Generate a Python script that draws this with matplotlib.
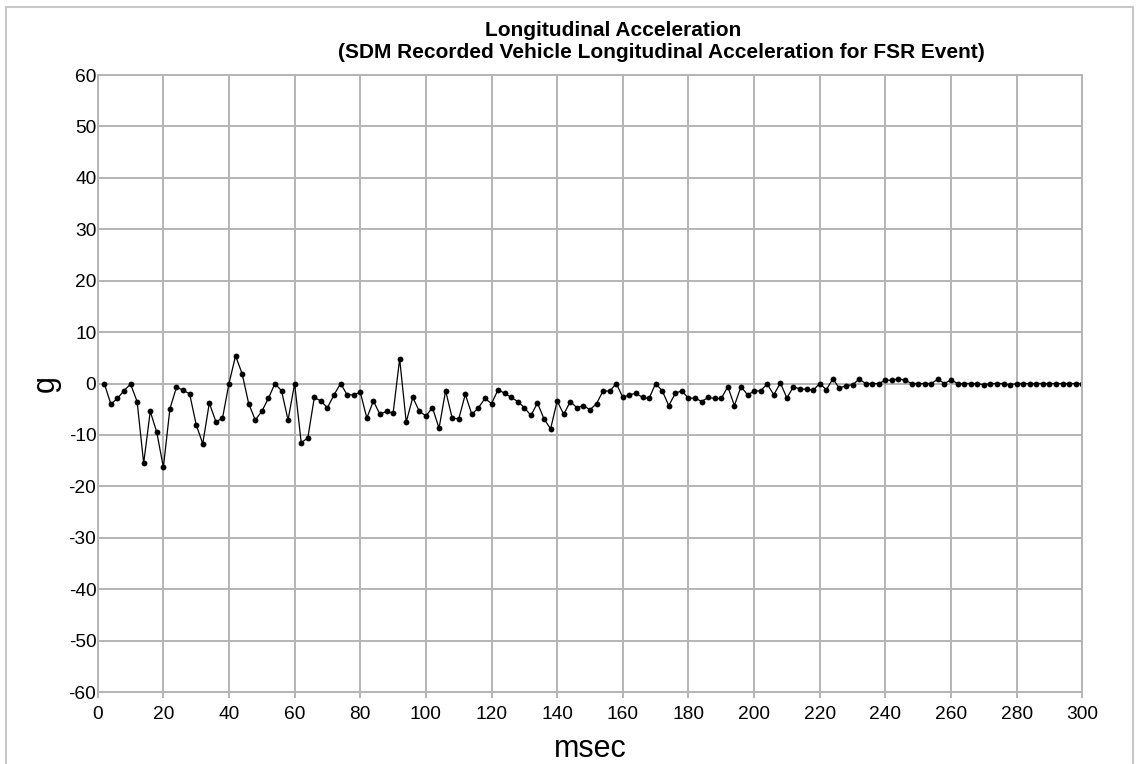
import numpy as np
import matplotlib.pyplot as plt
from matplotlib.patches import Rectangle

plt.rcParams['font.family'] = ['Liberation Sans', 'DejaVu Sans']
plt.rcParams['axes.unicode_minus'] = False

# Time samples (msec), one every 2 ms
msec = np.arange(2, 301, 2)

# Recorded longitudinal acceleration (g)
accel = [
    0.0, -4.0, -2.9, -1.4, -0.1, -3.5, -15.5, -5.4, -9.5, -16.3,      # 2-20
    -4.9, -0.7, -1.3, -2.0, -8.0, -11.7, -3.8, -7.4, -6.8, 0.0,       # 22-40
    5.4, 1.9, -3.9, -7.1, -5.4, -2.9, 0.0, -1.4, -7.1, 0.0,           # 42-60
    -11.5, -10.6, -2.7, -3.4, -4.7, -2.2, 0.0, -2.2, -2.2, -1.7,      # 62-80
    -6.7, -3.4, -6.0, -5.4, -5.8, 4.8, -7.5, -2.7, -5.4, -6.3,        # 82-100
    -4.7, -8.7, -1.4, -6.7, -6.9, -2.1, -6.0, -4.7, -2.9, -3.9,       # 102-120
    -1.2, -1.9, -2.7, -3.5, -4.7, -6.2, -3.8, -6.9, -8.8, -3.4,       # 122-140
    -6.0, -3.5, -4.7, -4.3, -5.1, -3.9, -1.4, -1.5, 0.0, -2.7,        # 142-160
    -2.2, -1.9, -2.7, -2.9, 0.0, -1.4, -4.3, -1.9, -1.4, -2.9,        # 162-180
    -2.8, -3.5, -2.7, -2.9, -2.9, -0.6, -4.3, -0.6, -2.2, -1.5,       # 182-200
    -1.4, -0.1, -2.2, 0.1, -2.8, -0.6, -1.1, -1.1, -1.3, 0.0,         # 202-220
    -1.2, 0.9, -0.9, -0.4, -0.25, 0.85, 0.0, 0.0, 0.0, 0.65,          # 222-240
    0.65, 0.9, 0.65, 0.0, 0.0, 0.0, 0.0, 0.85, 0.0, 0.7,              # 242-260
    0.0, 0.0, 0.0, 0.0, -0.25, 0.0, 0.0, 0.0, -0.25, 0.0,             # 262-280
    0.0, 0.0, 0.0, 0.0, 0.0, 0.0, 0.0, 0.0, 0.0, 0.0,                 # 282-300
]

x_ticks = np.arange(0, 301, 20)
y_ticks = np.arange(-60, 61, 10)

grid_col = '#b4b4b4'

fig = plt.figure(figsize=(11.39, 7.64), dpi=100)
ax = fig.add_axes([0.0858, 0.0942, 0.8644, 0.8076])

ax.plot(msec, accel, color='black', linewidth=0.9, marker='o',
        markersize=4.2, markerfacecolor='black', markeredgewidth=0)

ax.set_xlim(0, 300)
ax.set_ylim(-60, 60)
ax.set_xticks(x_ticks)
ax.set_yticks(y_ticks)
ax.grid(True, color=grid_col, linewidth=1.4)
ax.set_axisbelow(True)
for s in ax.spines.values():
    s.set_color(grid_col)
    s.set_linewidth(1.4)

ax.tick_params(axis='x', length=4, width=1.4, color=grid_col, pad=6,
               labelsize=13.8, direction='out')
ax.tick_params(axis='y', length=0, pad=1, labelsize=13.8)

ax.set_xlabel('msec', fontsize=22, labelpad=8)
ax.set_ylabel('g', fontsize=22, labelpad=6)

# two-line title, each line centred on its own
fig.text(613.5 / 1139, 1 - 30 / 764, 'Longitudinal Acceleration',
         ha='center', va='center', fontsize=15, fontweight='bold')
fig.text(661 / 1139, 1 - 52 / 764,
         '(SDM Recorded Vehicle Longitudinal Acceleration for FSR Event)',
         ha='center', va='center', fontsize=15, fontweight='bold')

# light frame around the whole chart
fig.patches.append(Rectangle((6 / 1139, -0.05), 1127 / 1139, 1.05 - 7 / 764,
                             transform=fig.transFigure, fill=False,
                             edgecolor='#c8c8c8', linewidth=1.5))

fig.savefig('out.png', dpi=100)
